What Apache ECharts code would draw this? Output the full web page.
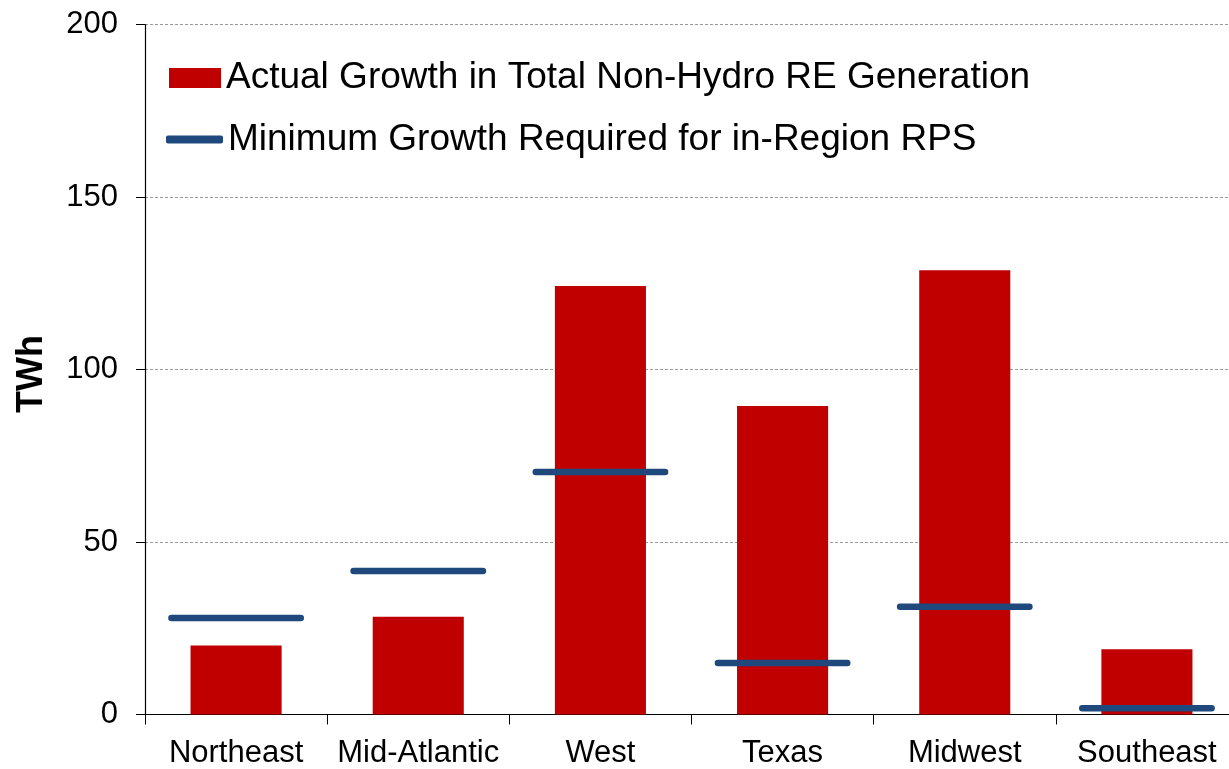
<!DOCTYPE html>
<html>
<head>
<meta charset="utf-8">
<script src="https://cdn.jsdelivr.net/npm/echarts@6/dist/echarts.min.js"></script>
<style>html,body{margin:0;padding:0;background:#fff}#c{width:1229px;height:769px}</style>
</head>
<body>
<div id="c"></div>
<script>
var categories = ['Northeast', 'Mid-Atlantic', 'West', 'Texas', 'Midwest', 'Southeast'];
var actualGrowth = [20, 28.3, 124.2, 89.4, 128.8, 18.9];
var requiredGrowth = [28, 41.6, 70.3, 14.9, 31.2, 1.8];
var yTicks = [0, 50, 100, 150, 200];
var seriesNames = ['Actual Growth in Total Non-Hydro RE Generation', 'Minimum Growth Required for in-Region RPS'];

var RED = '#C00000', BLUE = '#1F497D';
var FONT = '"Liberation Sans", Arial, sans-serif';
var chart = echarts.init(document.getElementById('c'), null, {renderer: 'canvas'});
chart.setOption({
  animation: false,
  backgroundColor: '#fff',
  textStyle: {fontFamily: FONT},
  grid: {left: 145, top: 24.5, bottom: 54.5, width: 1093, containLabel: false, outerBoundsMode: 'none'},
  legend: [{
    data: [seriesNames[0]], left: 169, top: 58, orient: 'vertical', padding: 0,
    itemWidth: 52, itemHeight: 20, itemGap: 0, icon: 'rect',
    textStyle: {fontSize: 37, color: '#000', fontFamily: FONT, lineHeight: 40}
  }, {
    data: [seriesNames[1]], left: 166, top: 119.5, orient: 'vertical', padding: 0,
    itemWidth: 57, itemHeight: 8, itemGap: 0, icon: 'roundRect',
    textStyle: {fontSize: 37, color: '#000', fontFamily: FONT, lineHeight: 40}
  }],
  xAxis: {
    type: 'category', data: categories, boundaryGap: true,
    axisLine: {lineStyle: {color: '#000', width: 1.2}},
    axisTick: {show: true, length: 10, interval: 0, lineStyle: {color: '#000'}},
    axisLabel: {fontSize: 31, color: '#000', margin: 23, interval: 0, fontFamily: FONT}
  },
  yAxis: {
    type: 'value', min: yTicks[0], max: yTicks[yTicks.length - 1], interval: 50,
    name: 'TWh', nameLocation: 'middle', nameRotate: 90, nameGap: 95,
    nameTextStyle: {fontSize: 36, fontWeight: 'bold', color: '#000', fontFamily: FONT, padding: [0, 9, 0, 0]},
    axisLine: {show: true, lineStyle: {color: '#000', width: 1.2}},
    axisTick: {show: true, length: 9, lineStyle: {color: '#000'}},
    axisLabel: {fontSize: 31, color: '#000', margin: 27, fontFamily: FONT},
    splitLine: {show: true, lineStyle: {color: '#9a9a9a', type: [3, 2], width: 1}}
  },
  series: [{
    name: seriesNames[0], type: 'bar', data: actualGrowth, barWidth: '50%',
    itemStyle: {color: RED}
  }, {
    name: seriesNames[1], type: 'custom', z: 5,
    itemStyle: {color: BLUE},
    data: requiredGrowth.map(function (v, i) { return [i, v]; }),
    renderItem: function (params, api) {
      var c = api.coord([api.value(0), api.value(1)]);
      var w = api.size([1, 0])[0];
      var half = w * 0.355;
      return {
        type: 'line',
        shape: {x1: c[0] - half, y1: c[1], x2: c[0] + half, y2: c[1]},
        style: {stroke: BLUE, lineWidth: 6.5, lineCap: 'round'}
      };
    }
  }]
});
</script>
</body>
</html>
